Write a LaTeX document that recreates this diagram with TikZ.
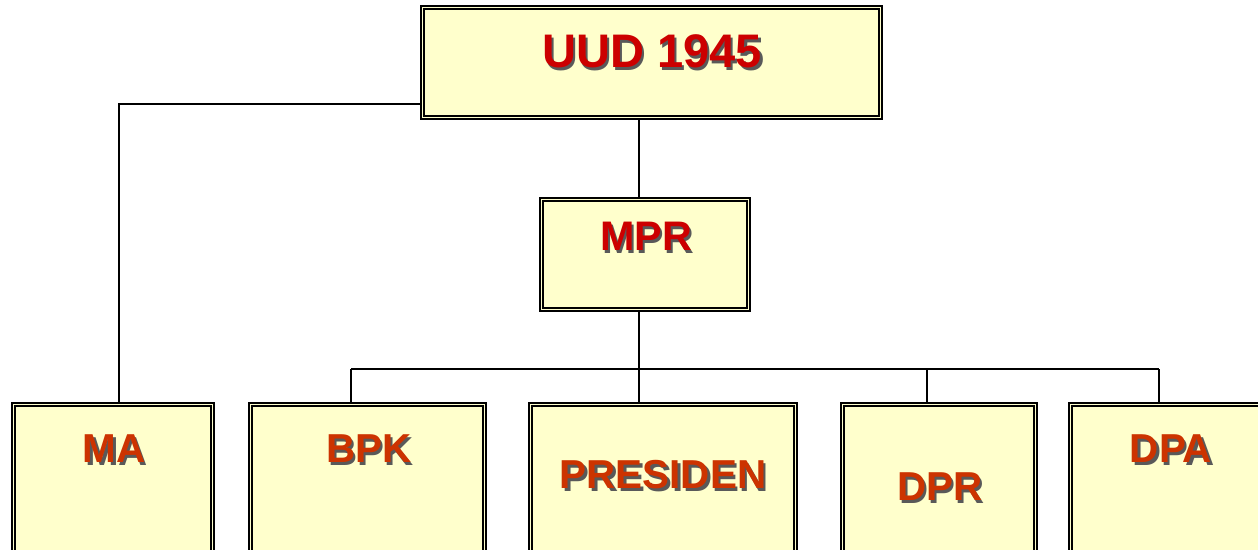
\documentclass[tikz,border=0pt]{standalone}
\usepackage{fontspec}
\setmainfont{Liberation Sans}

\definecolor{boxfill}{HTML}{FFFFCC}
\definecolor{topred}{HTML}{CC0000}
\definecolor{lowred}{HTML}{CC3300}

% bold caption with a small drop shadow
\newcommand{\shad}[1]{\makebox[0pt][l]{\hspace{1.4pt}\raisebox{-1.4pt}{\textcolor{black!65}{#1}}}#1}

\tikzstyle{b} = [rectangle, draw=black, line width=1.1pt, double=boxfill, double distance=1pt, fill=boxfill, inner sep=0pt]
\tikzstyle{t} = [inner sep=0pt, text=lowred, font=\bfseries\fontsize{23}{27}\selectfont]
\tikzstyle{line} = [draw=black, line width=0.8pt]

\begin{document}
\begin{tikzpicture}[x=0.02cm,y=-0.02cm]
\useasboundingbox (0,0) rectangle (1258,549);
\clip (0,0) rectangle (1258,549);

% top two levels
\node[b, minimum width=9.16cm, minimum height=2.2cm] (UUD) at (651.5,62.5) {};
\node[t, text=topred, font=\bfseries\fontsize{26.8}{30}\selectfont] (UUDText) at (652,53) {\shad{UUD 1945}};

\node[b, minimum width=4.14cm, minimum height=2.2cm] (MPR) at (645,254.5) {};
\node[t, text=topred, font=\bfseries\fontsize{23.5}{27}\selectfont] (MPRText) at (646,238) {\shad{MPR}};

% bottom row, cut off by the page edge
\node[b, minimum width=3.98cm, minimum height=3.6cm] (MA) at (113,494.5) {};
\node[b, minimum width=4.68cm, minimum height=3.6cm] (BPK) at (367.5,494.5) {};
\node[b, minimum width=5.3cm, minimum height=3.6cm] (Pres) at (663,494.5) {};
\node[b, minimum width=3.86cm, minimum height=3.6cm] (DPR) at (939,494.5) {};
\node[b, minimum width=4.02cm, minimum height=3.6cm] (DPA) at (1171,494.5) {};

\node[t] (MAText) at (114,450) {\shad{MA}};
\node[t] (BPKText) at (369,450) {\shad{BPK}};
\node[t] (PresText) at (663,476) {\shad{PRESIDEN}};
\node[t] (DPRText) at (940,488) {\shad{DPR}};
\node[t] (DPAText) at (1171,450) {\shad{DPA}};

% taps on the connectors
\coordinate (MATap) at (119,104);
\coordinate (Trunk) at (639,369);
\coordinate (BPKTap) at (351,369);
\coordinate (DPRTap) at (927,369);
\coordinate (DPATap) at (1159,369);

\draw[line] (UUD.west |- MATap) -| (MA.north -| MATap);
\draw[line] (UUD.south -| Trunk) -- (MPR.north -| Trunk);
\draw[line] (MPR.south -| Trunk) -- (Trunk) -- (Pres.north -| Trunk);
\draw[line] (BPKTap) -- (DPATap);
\foreach \n/\c in {BPK/BPKTap, DPR/DPRTap, DPA/DPATap}
  \draw[line] (\c) -- (\n.north -| \c);

\end{tikzpicture}
\end{document}
